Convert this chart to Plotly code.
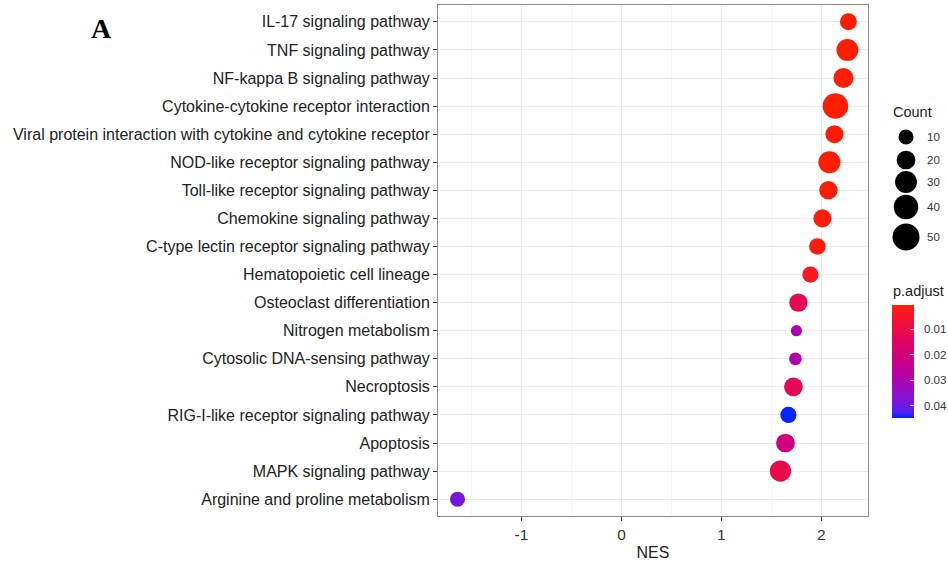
import numpy as np
import plotly.graph_objects as go

# ---------------- data ----------------
pathways = [
    "IL-17 signaling pathway",
    "TNF signaling pathway",
    "NF-kappa B signaling pathway",
    "Cytokine-cytokine receptor interaction",
    "Viral protein interaction with cytokine and cytokine receptor",
    "NOD-like receptor signaling pathway",
    "Toll-like receptor signaling pathway",
    "Chemokine signaling pathway",
    "C-type lectin receptor signaling pathway",
    "Hematopoietic cell lineage",
    "Osteoclast differentiation",
    "Nitrogen metabolism",
    "Cytosolic DNA-sensing pathway",
    "Necroptosis",
    "RIG-I-like receptor signaling pathway",
    "Apoptosis",
    "MAPK signaling pathway",
    "Arginine and proline metabolism",
]
nes = [2.27, 2.26, 2.22, 2.14, 2.13, 2.08, 2.07, 2.01, 1.96,
       1.89, 1.77, 1.75, 1.74, 1.72, 1.67, 1.64, 1.59, -1.64]
counts = [15, 30, 24, 44, 18, 31, 19, 18, 14,
          13, 19, 2, 5, 20, 13, 20, 28, 10]
p_adjust = [0.0004, 0.0005, 0.0006, 0.0004, 0.0007, 0.0006, 0.0008, 0.0009, 0.0012,
            0.0035, 0.0120, 0.0300, 0.0285, 0.0125, 0.0449, 0.0200, 0.0110, 0.0385]
legend_counts = [10, 20, 30, 40, 50]
cbar_ticks = [0.01, 0.02, 0.03, 0.04]

# ---------------- helpers (scales) ----------------
def size_scale(c):
    # area-proportional size scale (diameter in px)
    return np.sqrt(99 + 12.6 * np.asarray(c, dtype=float))

def _lin(c):
    c = c / 255
    return ((c + 0.055) / 1.055) ** 2.4 if c > 0.04045 else c / 12.92

def rgb_to_lab(r, g, b):
    R, G, B = _lin(r), _lin(g), _lin(b)
    X = (0.4124 * R + 0.3576 * G + 0.1805 * B) / 0.95047
    Y = (0.2126 * R + 0.7152 * G + 0.0722 * B)
    Z = (0.0193 * R + 0.1192 * G + 0.9505 * B) / 1.08883
    def f(t):
        return t ** (1 / 3) if t > 0.008856 else 7.787 * t + 16 / 116
    fx, fy, fz = f(X), f(Y), f(Z)
    return (116 * fy - 16, 500 * (fx - fy), 200 * (fy - fz))

def lab_to_rgb(L, a, b):
    fy = (L + 16) / 116
    fx = fy + a / 500
    fz = fy - b / 200
    def finv(t):
        return t ** 3 if t ** 3 > 0.008856 else (t - 16 / 116) / 7.787
    X = 0.95047 * finv(fx)
    Y = 1.0 * finv(fy)
    Z = 1.08883 * finv(fz)
    r = 3.2406 * X - 1.5372 * Y - 0.4986 * Z
    g = -0.9689 * X + 1.8758 * Y + 0.0415 * Z
    bb = 0.0557 * X - 0.2040 * Y + 1.0570 * Z
    def gam(c):
        c = max(0.0, min(1.0, c))
        return 1.055 * c ** (1 / 2.4) - 0.055 if c > 0.0031308 else 12.92 * c
    return tuple(int(round(255 * gam(c))) for c in (r, g, bb))

low_lab = rgb_to_lab(255, 30, 0)
high_lab = rgb_to_lab(5, 35, 255)
colorscale = []
n = 20
for i in range(n + 1):
    s = i / n          # 0 -> blue (high p), 1 -> red (low p)
    t = 1 - s
    L = low_lab[0] + (high_lab[0] - low_lab[0]) * t
    A = low_lab[1] + (high_lab[1] - low_lab[1]) * t
    B = low_lab[2] + (high_lab[2] - low_lab[2]) * t
    r, g, b = lab_to_rgb(L, A, B)
    colorscale.append([s, f"rgb({r},{g},{b})"])

neg_p = [-v for v in p_adjust]
cmin, cmax = -max(p_adjust), -min(p_adjust)

# ---------------- figure ----------------
W, H = 948, 561
ml, mr, mt, mb = 438, 0, 5, 45
pw = W - ml - mr
ph = H - mt - mb
plot_right = 868
xdom_end = (plot_right - ml) / pw

def px_x(x):
    return (x - ml) / pw

def px_y(y):
    return (H - mb - y) / ph

font = "Liberation Sans, Arial, sans-serif"
txt = "#333333"

cb_top, cb_len = 305, 113

fig = go.Figure()
fig.add_trace(go.Scatter(
    x=nes, y=pathways, mode="markers",
    marker=dict(
        size=size_scale(counts), sizemode="diameter",
        color=neg_p, colorscale=colorscale,
        cmin=cmin, cmax=cmax,
        line=dict(width=0), opacity=1,
        colorbar=dict(
            x=px_x(892), xanchor="left", xpad=0,
            y=px_y(cb_top + cb_len / 2), yanchor="middle", ypad=0,
            len=cb_len, lenmode="pixels", thickness=22, thicknessmode="pixels",
            outlinewidth=0,
            tickvals=[-v for v in cbar_ticks],
            ticks="inside", ticklen=4, tickcolor="white", tickwidth=1,
            showticklabels=False,
        ),
    ),
    showlegend=False, hoverinfo="x+y",
))

# size legend keys
legend_key_x = 906
legend_key_y = [137, 160, 182, 207, 237]
fig.add_trace(go.Scatter(
    x=[legend_key_x] * len(legend_counts), y=legend_key_y, mode="markers",
    marker=dict(size=size_scale(legend_counts), color="#000000",
                line=dict(width=0), opacity=1),
    showlegend=False, hoverinfo="skip",
    xaxis="x2", yaxis="y2",
))

annotations = [
    dict(text="A", x=px_x(101.5), y=px_y(28), xref="paper", yref="paper",
         xanchor="center", yanchor="middle", showarrow=False,
         font=dict(family="Liberation Serif, Times New Roman, serif",
                   size=28, color="black", weight="bold")),
    dict(text="Count", x=px_x(891), y=px_y(112), xref="paper", yref="paper",
         xanchor="left", yanchor="middle", showarrow=False,
         font=dict(family=font, size=14.5, color="#222222")),
    dict(text="p.adjust", x=px_x(891), y=px_y(291), xref="paper", yref="paper",
         xanchor="left", yanchor="middle", showarrow=False,
         font=dict(family=font, size=14.5, color="#222222")),
]
for c, yk in zip(legend_counts, legend_key_y):
    annotations.append(dict(
        text=str(c), x=925, y=yk, xref="x2", yref="y2",
        xanchor="left", yanchor="middle", showarrow=False,
        font=dict(family=font, size=11.5, color=txt)))
# colorbar tick labels, placed through the colorbar's own linear scale
for v in cbar_ticks:
    frac = (cmax - (-v)) / (cmax - cmin)
    ypx = cb_top + frac * cb_len
    annotations.append(dict(
        text=f"{v:.2f}", x=922, y=ypx, xref="x2", yref="y2",
        xanchor="left", yanchor="middle", showarrow=False,
        font=dict(family=font, size=11.5, color=txt)))

fig.update_layout(
    width=W, height=H,
    margin=dict(l=ml, r=mr, t=mt, b=mb),
    paper_bgcolor="white", plot_bgcolor="white",
    font=dict(family=font, color=txt),
    xaxis=dict(
        domain=[0, xdom_end],
        range=[-1.835, 2.466],
        tickvals=[-1, 0, 1, 2], ticktext=["-1", "0", "1", "2"],
        tickfont=dict(size=15.5, color=txt),
        ticks="outside", ticklen=4, tickcolor="#333333", tickwidth=1,
        showgrid=True, gridcolor="#EBEBEB", gridwidth=1.1,
        minor=dict(tickvals=[-1.5, -0.5, 0.5, 1.5], showgrid=True,
                   gridcolor="#F5F5F5", gridwidth=0.6, ticks=""),
        zeroline=False,
        showline=True, linecolor="#8C8C8C", linewidth=1, mirror=True,
        title=dict(text="NES", font=dict(size=16, color="#222222"), standoff=6),
    ),
    yaxis=dict(
        domain=[0, 1],
        type="category",
        categoryorder="array", categoryarray=pathways,
        range=[len(pathways) - 0.4, -0.6],
        tickfont=dict(size=16, color="#222222"),
        ticks="outside", ticklen=4, tickcolor="#333333", tickwidth=1,
        showgrid=True, gridcolor="#EBEBEB", gridwidth=1.1,
        zeroline=False,
        showline=True, linecolor="#8C8C8C", linewidth=1, mirror=True,
    ),
    xaxis2=dict(domain=[px_x(880), 1], range=[880, 948], visible=False,
                fixedrange=True, anchor="y2"),
    yaxis2=dict(domain=[0, 1], range=[H - mb, mt], visible=False,
                fixedrange=True, anchor="x2"),
    annotations=annotations,
)

fig.write_html(
    "out.html",
    config={"displayModeBar": False},
    post_script="document.body.style.margin='0';document.body.style.padding='0';"
                "document.body.style.overflow='hidden';"
                "document.documentElement.style.overflow='hidden';",
)
